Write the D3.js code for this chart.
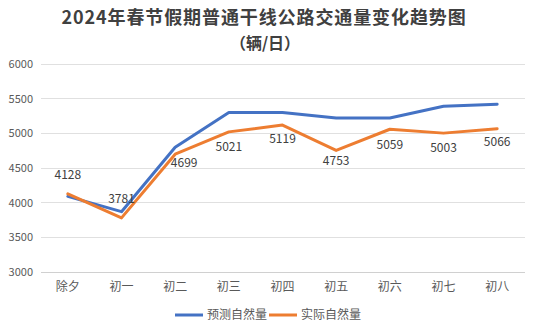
<!DOCTYPE html>
<html><head><meta charset="utf-8">
<script src="https://cdn.jsdelivr.net/npm/d3@7/dist/d3.min.js"></script>
<style>body{margin:0;background:#fff}svg{display:block}</style>
</head><body><svg id="c" width="534" height="330"></svg>
<script>
const categories = ["除夕","初一","初二","初三","初四","初五","初六","初七","初八"];
const forecast = [4090,3870,4800,5300,5300,5220,5220,5390,5420];
const actual = [4128,3781,4699,5021,5119,4753,5059,5003,5066];
const yTicks = [3000,3500,4000,4500,5000,5500,6000];
const seriesNames = ["预测自然量","实际自然量"];
const titleLines = ["2024年春节假期普通干线公路交通量变化趋势图","（辆/日）"];

const font = "'Noto Sans CJK SC','Noto Sans',sans-serif";
const svg = d3.select("#c");
const x = d3.scaleBand().domain(categories).range([41,524]);
const y = d3.scaleLinear().domain([3000,6000]).range([272,64]);
const cx = d => x(d) + x.bandwidth()/2;

// grid
svg.append("g").selectAll("line").data(yTicks).join("line")
  .attr("x1",41).attr("x2",525).attr("y1",d=>y(d)).attr("y2",d=>y(d))
  .attr("stroke",d=>d===3000?"#d0d0d0":"#e0e0e0").attr("stroke-width",1).attr("shape-rendering","crispEdges");

// y labels
svg.append("g").selectAll("text").data(yTicks).join("text")
  .attr("x",33).attr("y",d=>y(d)).attr("dy","0.35em").attr("text-anchor","end")
  .attr("font-family",font).attr("font-size",11).attr("fill","#595959").text(d=>d);

// x labels
svg.append("g").selectAll("text").data(categories).join("text")
  .attr("x",d=>cx(d)).attr("y",287).attr("dy","0.35em").attr("text-anchor","middle")
  .attr("font-family",font).attr("font-size",12).attr("fill","#595959").text(d=>d);

const line = d3.line().x((d,i)=>cx(categories[i])).y(d=>y(d));
svg.append("path").datum(forecast).attr("d",line).attr("fill","none")
  .attr("stroke","#4472C4").attr("stroke-width",3).attr("stroke-linejoin","round").attr("stroke-linecap","round");
svg.append("path").datum(actual).attr("d",line).attr("fill","none")
  .attr("stroke","#ED7D31").attr("stroke-width",3).attr("stroke-linejoin","round").attr("stroke-linecap","round");

// data labels (placement offsets)
const lblOff = [[0,-19],[0,-19],[9,9],[0,15],[0,14],[0,10],[0,16],[0,15],[0,13]];
svg.append("g").selectAll("text").data(actual).join("text")
  .attr("x",(d,i)=>cx(categories[i])+lblOff[i][0]).attr("y",(d,i)=>y(d)+lblOff[i][1]).attr("dy","0.35em")
  .attr("text-anchor","middle").attr("font-family",font).attr("font-size",12).attr("fill","#404040").text(d=>d);

// title
svg.append("text").attr("x",264).attr("y",18).attr("dy","0.35em").attr("text-anchor","middle")
  .attr("font-family",font).attr("font-size",18).attr("letter-spacing",0.9).attr("font-weight","bold").attr("fill","#404040").text(titleLines[0]);
svg.append("text").attr("x",265).attr("y",43).attr("dy","0.35em").attr("text-anchor","middle")
  .attr("font-family",font).attr("font-size",16).attr("font-weight","bold").attr("fill","#404040").text(titleLines[1]);

// legend
const colors = ["#4472C4","#ED7D31"];
const lg = svg.append("g");
const lx = [175,269];
seriesNames.forEach((n,i)=>{
  lg.append("line").attr("x1",lx[i]).attr("x2",lx[i]+28).attr("y1",315).attr("y2",315)
    .attr("stroke",colors[i]).attr("stroke-width",3);
  lg.append("text").attr("x",lx[i]+32).attr("y",315).attr("dy","0.35em")
    .attr("font-family",font).attr("font-size",12).attr("fill","#595959").text(n);
});
</script></body></html>
